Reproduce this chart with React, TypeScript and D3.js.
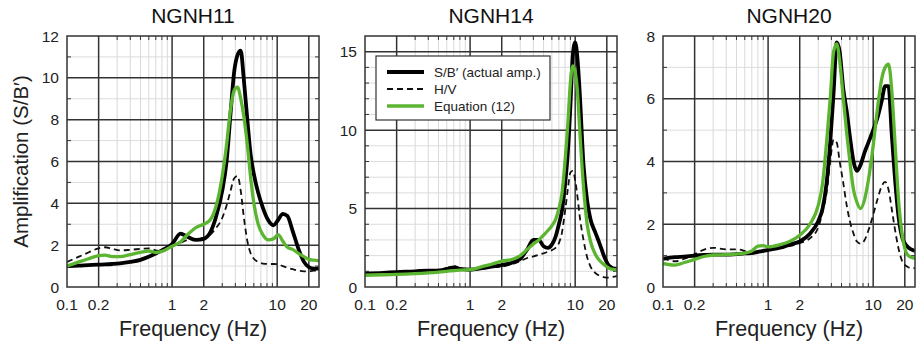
import React from "react";
import * as d3 from "d3";

// ---------- DATA ----------
const panelNames = ["NGNH11", "NGNH14", "NGNH20"];
const yMaxes = [12, 16, 8];
const yMajorSteps = [2, 5, 2];
const xTickLabels = [0.1, 0.2, 1, 2, 10, 20];
const xMajorGrid = [0.2, 1, 2, 10, 20];
const xMinorGrid = [0.3, 0.4, 0.5, 0.6, 0.7, 0.8, 0.9, 3, 4, 5, 6, 7, 8, 9];
const legendLabels = ["S/B\u2032 (actual amp.)", "H/V", "Equation (12)"];

const ngnh11Freq = [0.1, 0.13, 0.16, 0.2, 0.23, 0.27, 0.32, 0.4, 0.5, 0.6, 0.7, 0.8, 1.0, 1.2, 1.4, 1.7, 2.0, 2.3, 2.6, 3.0, 3.3, 3.6, 3.9, 4.2, 4.5, 4.8, 5.2, 5.6, 6.0, 6.6, 7.3, 8.2, 9.2, 10.2, 11.3, 12.5, 14, 16, 18, 20, 22.5, 25];
const ngnh11SB = [1.0, 1.02, 1.05, 1.07, 1.08, 1.1, 1.13, 1.2, 1.3, 1.45, 1.6, 1.75, 2.05, 2.55, 2.4, 2.25, 2.3, 2.6, 3.3, 4.6, 6.0, 8.3, 10.3, 11.1, 11.3, 10.0, 8.0, 6.3, 5.4, 4.5, 3.8, 3.2, 2.95, 3.2, 3.5, 3.4, 2.7, 1.8, 1.2, 0.95, 0.88, 0.88];
const ngnh11HV = [1.2, 1.45, 1.65, 1.85, 1.9, 1.82, 1.75, 1.78, 1.82, 1.85, 1.75, 1.7, 1.95, 2.1, 2.25, 2.3, 2.35, 2.5, 2.8, 3.3, 3.9, 4.6, 5.2, 5.3, 4.6, 3.4, 2.2, 1.6, 1.35, 1.2, 1.12, 1.1, 1.1, 1.08, 1.0, 0.92, 0.85, 0.78, 0.75, 0.75, 0.78, 0.8];
const ngnh11Eq = [1.0, 1.2, 1.35, 1.5, 1.52, 1.45, 1.45, 1.55, 1.65, 1.72, 1.65, 1.7, 1.95, 2.15, 2.5, 2.85, 3.0, 3.2, 3.8, 5.3, 6.8, 8.5, 9.4, 9.55, 9.0, 8.2, 6.8, 5.2, 4.0, 3.0, 2.5, 2.25, 2.3, 2.5, 2.2, 1.9, 1.8, 1.6, 1.45, 1.32, 1.28, 1.25];

const ngnh14Freq = [0.1, 0.15, 0.2, 0.3, 0.4, 0.5, 0.6, 0.7, 0.8, 1.0, 1.3, 1.6, 2.0, 2.5, 3.0, 3.5, 4.0, 4.5, 5.0, 5.5, 6.0, 6.5, 7.0, 7.5, 8.0, 8.5, 9.0, 9.5, 10.0, 10.5, 11.0, 12.0, 13.0, 14.0, 15.5, 17.0, 19.0, 21.0, 23.0, 25.0];
const ngnh14SB = [0.85, 0.9, 0.95, 1.0, 1.05, 1.05, 1.15, 1.25, 1.15, 1.1, 1.2, 1.3, 1.4, 1.55, 1.8, 2.4, 3.0, 3.0, 2.6, 2.5, 2.7, 3.2, 4.0, 4.9, 6.5, 8.5, 11.5, 14.8, 15.6, 14.6, 12.6, 7.8, 5.5, 4.3, 3.5, 2.8, 1.9, 1.35, 1.2, 1.15];
const ngnh14HV = [0.85, 0.9, 0.95, 1.0, 1.05, 1.1, 1.2, 1.35, 1.2, 1.1, 1.15, 1.25, 1.3, 1.45, 1.65, 1.85, 1.95, 2.05, 2.15, 2.25, 2.35, 2.5, 2.8, 3.5, 4.8, 6.2, 7.3, 7.4, 6.8, 5.8, 4.6, 3.0, 1.9, 1.3, 0.9, 0.72, 0.62, 0.6, 0.65, 0.7];
const ngnh14Eq = [0.75, 0.78, 0.8, 0.85, 0.9, 0.95, 1.0, 1.05, 1.08, 1.1, 1.3, 1.45, 1.65, 1.75, 2.0, 2.4, 2.75, 3.0, 3.3, 3.6, 3.9, 4.3, 5.0, 6.0, 8.0, 10.3, 13.0, 14.1, 13.7, 12.5, 10.2, 6.4, 4.0, 2.9, 2.1, 1.7, 1.4, 1.2, 1.12, 1.1];

const ngnh20Freq = [0.1, 0.13, 0.16, 0.2, 0.25, 0.3, 0.4, 0.5, 0.6, 0.7, 0.8, 0.9, 1.0, 1.3, 1.6, 2.0, 2.5, 3.0, 3.3, 3.6, 3.9, 4.2, 4.5, 4.8, 5.2, 5.6, 6.0, 6.5, 7.0, 7.6, 8.3, 9.0, 10.0, 11.0, 12.0, 13.0, 14.0, 15.0, 16.0, 17.5, 19.0, 21.0, 23.0, 25.0];
const ngnh20SB = [0.9, 0.95, 0.97, 1.0, 1.02, 1.03, 1.03, 1.05, 1.07, 1.08, 1.12, 1.15, 1.18, 1.25, 1.35, 1.45, 1.7, 2.1, 2.5, 3.3, 4.6, 6.2, 7.8, 7.5, 6.3, 5.6, 4.8, 4.0, 3.7, 3.9, 4.3, 4.6, 5.0, 5.4, 5.9, 6.4, 6.4, 4.9, 3.6, 2.2, 1.55, 1.3, 1.2, 1.15];
const ngnh20HV = [0.92, 0.82, 0.9, 1.05, 1.2, 1.25, 1.2, 1.2, 1.15, 1.08, 1.12, 1.15, 1.18, 1.25, 1.3, 1.4, 1.55, 1.9, 2.4, 3.0, 4.0, 4.7, 4.6, 4.0, 3.3, 2.6, 2.1, 1.7, 1.45, 1.38, 1.5, 1.8, 2.3, 2.8, 3.2, 3.35, 3.1, 2.5, 1.9, 1.2, 0.8, 0.65, 0.6, 0.6];
const ngnh20Eq = [0.75, 0.7, 0.78, 0.88, 0.98, 1.02, 1.03, 1.05, 1.08, 1.15, 1.3, 1.32, 1.28, 1.35, 1.45, 1.65, 2.0, 2.6, 3.3, 4.6, 6.0, 7.5, 7.75, 7.2, 6.0, 4.9, 4.0, 3.1, 2.7, 2.5, 2.8, 3.4, 4.5, 5.7, 6.6, 7.0, 7.1, 6.3, 4.8, 2.7, 1.6, 1.05, 0.95, 0.92];

const panelFreqs = [ngnh11Freq, ngnh14Freq, ngnh20Freq];
const panelSB = [ngnh11SB, ngnh14SB, ngnh20SB];
const panelHV = [ngnh11HV, ngnh14HV, ngnh20HV];
const panelEq = [ngnh11Eq, ngnh14Eq, ngnh20Eq];

// ---------- LAYOUT ----------
const W = 918;
const H = 348;
const panelLefts = [67, 365, 663];
const plotW = 252;
const plotTop = 36;
const plotBottom = 287;
const FONT = "'Liberation Sans', Arial, Helvetica, sans-serif";
const GREEN = "#5cb531";

function Panel({ idx }: { idx: number }) {
  const left = panelLefts[idx];
  const x = d3.scaleLog().domain([0.1, 25]).range([left, left + plotW]);
  const y = d3.scaleLinear().domain([0, yMaxes[idx]]).range([plotBottom, plotTop]);
  const freqs = panelFreqs[idx];
  const mk = (vals: number[]) =>
    d3
      .line<number>()
      .x((_, i) => x(freqs[i]))
      .y((v) => y(v))
      .curve(d3.curveMonotoneX)(vals) || "";
  const minorY = d3.range(1, yMaxes[idx], 1).filter((v) => v % yMajorSteps[idx] !== 0);
  const majorY = d3.range(yMajorSteps[idx], yMaxes[idx], yMajorSteps[idx]);
  const yLabels = d3.range(0, yMaxes[idx] + 0.001, yMajorSteps[idx]);
  const cx = left + plotW / 2;
  const clipId = `clip${idx}`;
  const right = left + plotW;
  return (
    <g>
      <defs>
        <clipPath id={clipId}>
          <rect x={left} y={plotTop} width={plotW} height={plotBottom - plotTop} />
        </clipPath>
      </defs>
      <rect x={left} y={plotTop} width={plotW} height={plotBottom - plotTop} fill="#fff" />
      {xMinorGrid.map((f) => (
        <line key={"xm" + f} x1={x(f)} x2={x(f)} y1={plotTop} y2={plotBottom} stroke="#d9d9d9" strokeWidth={1} />
      ))}
      {minorY.map((v) => (
        <line key={"ym" + v} x1={left} x2={right} y1={y(v)} y2={y(v)} stroke="#dcdcdc" strokeWidth={1} />
      ))}
      {xMinorGrid.map((f) => (
        <g key={"xt" + f}>
          <line x1={x(f)} x2={x(f)} y1={plotTop} y2={plotTop + 4} stroke="#333" strokeWidth={1} />
          <line x1={x(f)} x2={x(f)} y1={plotBottom} y2={plotBottom - 4} stroke="#333" strokeWidth={1} />
        </g>
      ))}
      {minorY.map((v) => (
        <g key={"yt" + v}>
          <line x1={left} x2={left + 4} y1={y(v)} y2={y(v)} stroke="#333" strokeWidth={1} />
          <line x1={right} x2={right - 4} y1={y(v)} y2={y(v)} stroke="#333" strokeWidth={1} />
        </g>
      ))}
      {xMajorGrid.map((f) => (
        <line key={"xM" + f} x1={x(f)} x2={x(f)} y1={plotTop} y2={plotBottom} stroke="#333" strokeWidth={1.5} />
      ))}
      {majorY.map((v) => (
        <line key={"yM" + v} x1={left} x2={right} y1={y(v)} y2={y(v)} stroke="#333" strokeWidth={1.5} />
      ))}
      <g clipPath={`url(#${clipId})`}>
        <path d={mk(panelHV[idx])} fill="none" stroke="#111" strokeWidth={1.8} strokeDasharray="6,4" />
        <path d={mk(panelSB[idx])} fill="none" stroke="#000" strokeWidth={3.8} strokeLinejoin="round" />
        <path d={mk(panelEq[idx])} fill="none" stroke={GREEN} strokeWidth={3.3} strokeLinejoin="round" />
      </g>
      <rect x={left} y={plotTop} width={plotW} height={plotBottom - plotTop} fill="none" stroke="#333" strokeWidth={1.5} />
      {xTickLabels.map((f) => (
        <text key={"xl" + f} x={x(f)} y={310} textAnchor="middle" fontSize={15.5} fontFamily={FONT} fill="#222">
          {String(f)}
        </text>
      ))}
      {yLabels.map((v) => (
        <text key={"yl" + v} x={left - 8} y={y(v)} dy="0.36em" textAnchor="end" fontSize={15.5} fontFamily={FONT} fill="#222">
          {String(v)}
        </text>
      ))}
      <text x={cx} y={23} textAnchor="middle" fontSize={21} fontFamily={FONT} fill="#111">
        {panelNames[idx]}
      </text>
      <text x={cx} y={336} textAnchor="middle" fontSize={21.5} fontFamily={FONT} fill="#222">
        Frequency (Hz)
      </text>
    </g>
  );
}

function Legend() {
  const lx = 376;
  const ly = 56;
  const rows = [
    { stroke: "#000", w: 4, dash: undefined as string | undefined },
    { stroke: "#111", w: 2, dash: "6,4" },
    { stroke: GREEN, w: 3.5, dash: undefined as string | undefined },
  ];
  return (
    <g>
      <rect x={lx} y={ly} width={174} height={64} fill="#fff" stroke="#333" strokeWidth={1.2} />
      {rows.map((r, i) => (
        <g key={i}>
          <line x1={lx + 11} x2={lx + 48} y1={ly + 16 + i * 17} y2={ly + 16 + i * 17} stroke={r.stroke} strokeWidth={r.w} strokeDasharray={r.dash} />
          <text x={lx + 58} y={ly + 16 + i * 17} dy="0.36em" fontSize={13.5} fontFamily={FONT} fill="#222">
            {legendLabels[i]}
          </text>
        </g>
      ))}
    </g>
  );
}

export default function App() {
  return (
    <svg width={W} height={H} style={{ position: "absolute", left: 0, top: 0, background: "#fff" }}>
      <rect x={0} y={0} width={W} height={H} fill="#fff" />
      {panelNames.map((_, i) => (
        <Panel key={i} idx={i} />
      ))}
      <Legend />
      <text
        transform={`translate(28,${(plotTop + plotBottom) / 2}) rotate(-90)`}
        textAnchor="middle"
        fontSize={20.5}
        fontFamily={FONT}
        fill="#222"
      >
        Amplification (S/B{"\u2032"})
      </text>
    </svg>
  );
}
